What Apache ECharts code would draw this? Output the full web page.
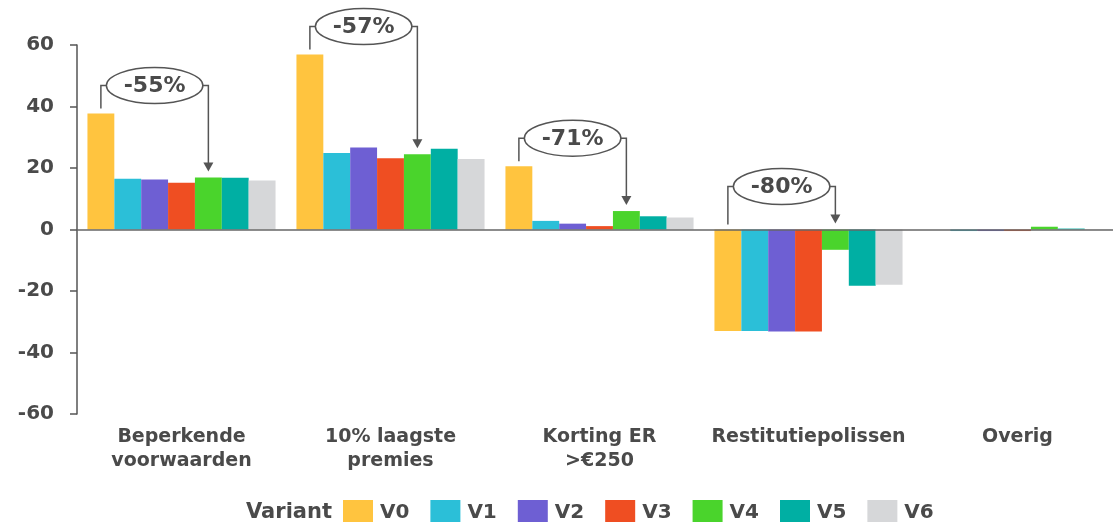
<!DOCTYPE html>
<html>
<head>
<meta charset="utf-8">
<script src="https://cdn.jsdelivr.net/npm/echarts@6/dist/echarts.min.js"></script>
<style>
  html, body { margin: 0; padding: 0; background: #ffffff; }
  #chart { width: 1113px; height: 522px; }
</style>
</head>
<body>
<div id="chart"></div>
<script>
// Categories and per-variant values (percent change)
const categories = ['Beperkende\nvoorwaarden', '10% laagste\npremies', 'Korting ER\n>€250', 'Restitutiepolissen', 'Overig'];
const variantNames = ['V0', 'V1', 'V2', 'V3', 'V4', 'V5', 'V6'];
const v0 = [37.7, 56.9, 20.6, -33.0, 0.0];
const v1 = [16.5, 24.9, 2.8, -33.0, -0.5];
const v2 = [16.3, 26.7, 1.9, -33.2, -0.5];
const v3 = [15.2, 23.2, 1.1, -33.2, -0.5];
const v4 = [16.9, 24.5, 6.0, -6.6, 0.9];
const v5 = [16.8, 26.3, 4.3, -18.3, 0.3];
const v6 = [15.9, 22.9, 3.9, -18.0, 0.1];
const yTicks = [-60, -40, -20, 0, 20, 40, 60];

// Reduction callouts: [category index, from variant index, to variant index]
const comparisons = [[0, 0, 4], [1, 0, 4], [2, 0, 4], [3, 0, 4]];

const seriesValues = [v0, v1, v2, v3, v4, v5, v6];
const colors = ['#FFC43F', '#2BBFD8', '#6E5FD3', '#EF4E22', '#4AD42C', '#00AFA3', '#D6D7D9'];
const FONT = 'DejaVu Sans';
const TEXT = '#4a4a4a';
const INK = '#555555';
const CATEGORY_GAP = 0.10;

const chart = echarts.init(document.getElementById('chart'), null, { renderer: 'canvas' });

const barSeries = variantNames.map((name, i) => ({
  name: name,
  type: 'bar',
  data: seriesValues[i],
  itemStyle: { color: colors[i] },
  barGap: '0%',
  barCategoryGap: (CATEGORY_GAP * 100) + '%',
  markLine: i === 0 ? {
    silent: true,
    symbol: ['none', 'none'],
    label: { show: false },
    lineStyle: { color: '#666666', width: 1.5, type: 'solid' },
    data: [{ yAxis: 0 }],
    z: 10
  } : undefined
}));

// Callout drawn from the bar scale: bracket from one bar, ellipse label, arrow to the other bar
const calloutData = comparisons.map(([c, a, b]) => {
  const from = seriesValues[a][c];
  const to = seriesValues[b][c];
  const pct = Math.round((to - from) / from * 100);
  return [c, from, to, a, b, pct];
});

function renderCallout(params, api) {
  const c = api.value(0);
  const from = api.value(1);
  const to = api.value(2);
  const a = api.value(3);
  const b = api.value(4);
  const pct = api.value(5);
  const n = variantNames.length;
  const band = api.size([1, 0])[0];
  const bw = band * (1 - CATEGORY_GAP) / n;
  const center = api.coord([c, 0]);
  const xFrom = center[0] + (a - (n - 1) / 2) * bw;
  const xTo = center[0] + (b - (n - 1) / 2) * bw;
  const yFromTop = api.coord([c, Math.max(from, 0)])[1];
  const yToTop = api.coord([c, Math.max(to, 0)])[1];
  const startY = yFromTop - 5;
  const rise = from > 0 ? 23 : 38;
  const cy = startY - rise;
  const cx = (xFrom + xTo) / 2;
  const ew = (xTo - xFrom) - 11;
  const eh = 36;
  const tipY = yToTop - 6;
  const headH = 9;
  const lineStyle = { stroke: INK, lineWidth: 1.5, fill: null };
  return {
    type: 'group',
    children: [
      {
        type: 'polyline',
        shape: { points: [[xFrom, startY], [xFrom, cy], [cx - ew / 2, cy]] },
        style: lineStyle
      },
      {
        type: 'polyline',
        shape: { points: [[cx + ew / 2, cy], [xTo, cy], [xTo, tipY - headH + 1]] },
        style: lineStyle
      },
      {
        type: 'polygon',
        shape: { points: [[xTo - 5, tipY - headH], [xTo + 5, tipY - headH], [xTo, tipY]] },
        style: { fill: INK }
      },
      {
        type: 'path',
        shape: {
          pathData: 'M0,50 A50,50 0 1 1 100,50 A50,50 0 1 1 0,50 Z',
          x: cx - ew / 2, y: cy - eh / 2, width: ew, height: eh, layout: 'cover'
        },
        style: { stroke: INK, lineWidth: 1.5, fill: '#ffffff' }
      },
      {
        type: 'text',
        x: cx, y: cy + 1,
        style: {
          text: pct + '%',
          fontFamily: FONT, fontWeight: 'bold', fontSize: 22,
          fill: TEXT, align: 'center', verticalAlign: 'middle'
        }
      }
    ]
  };
}

const option = {
  animation: false,
  backgroundColor: '#ffffff',
  textStyle: { fontFamily: FONT },
  title: {
    text: 'Variant',
    left: 246,
    top: 502,
    padding: 0,
    textStyle: { fontFamily: FONT, fontWeight: 'bold', fontSize: 21, color: TEXT }
  },
  legend: {
    data: variantNames,
    left: 343,
    top: 500,
    padding: 0,
    icon: 'rect',
    itemWidth: 30,
    itemHeight: 26,
    itemGap: 21,
    selectedMode: false,
    textStyle: { fontFamily: FONT, fontWeight: 'bold', fontSize: 20, color: TEXT, padding: [0, 0, 0, 2] }
  },
  grid: { left: 77, top: 45, width: 1045, height: 369, containLabel: false, outerBoundsMode: 'none' },
  xAxis: {
    type: 'category',
    data: categories,
    axisLine: { show: false },
    axisTick: { show: false },
    axisLabel: {
      interval: 0,
      margin: 11,
      fontFamily: FONT, fontWeight: 'bold', fontSize: 19, lineHeight: 24,
      color: TEXT, align: 'center'
    },
    splitLine: { show: false }
  },
  yAxis: {
    type: 'value',
    min: yTicks[0],
    max: yTicks[yTicks.length - 1],
    interval: yTicks[1] - yTicks[0],
    axisLine: { show: true, lineStyle: { color: INK, width: 1.5 } },
    axisTick: { show: true, inside: false, length: 7, lineStyle: { color: INK, width: 1.5 } },
    axisLabel: { margin: 23, fontFamily: FONT, fontWeight: 'bold', fontSize: 20, color: TEXT },
    splitLine: { show: false }
  },
  series: barSeries.concat([{
    type: 'custom',
    name: 'callouts',
    clip: false,
    silent: true,
    z: 20,
    renderItem: renderCallout,
    data: calloutData
  }])
};

chart.setOption(option);
</script>
</body>
</html>
